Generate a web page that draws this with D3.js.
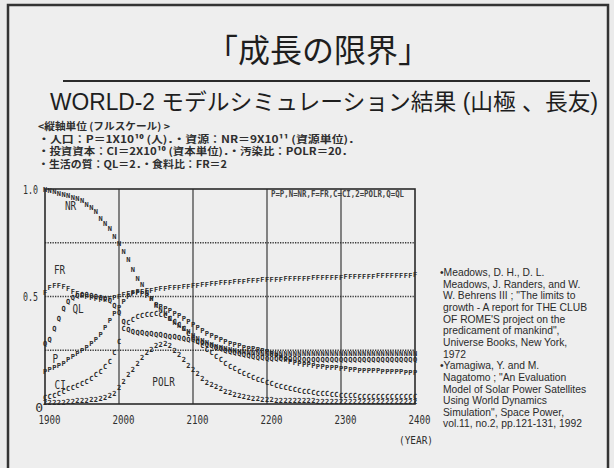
<!DOCTYPE html>
<html>
<head>
<meta charset="utf-8">
<script src="https://cdn.jsdelivr.net/npm/d3@7"></script>
<style>
    body { margin: 0; background: #ebebeb; }
    svg { display: block; }
</style>
</head>
<body>
<script>
// simulation output, normalised to full scale, every 6.25 years 1900-2400
var years = d3.range(81).map(function (i) { return 1900 + i * 6.25; });

var nr = [1.00, 0.995, 0.99, 0.98, 0.975, 0.97, 0.96, 0.955,
    0.945, 0.93, 0.915, 0.895, 0.865, 0.84, 0.815, 0.78,
    0.745, 0.71, 0.67, 0.625, 0.585, 0.555, 0.52, 0.49,
    0.46, 0.44, 0.42, 0.40, 0.38, 0.365, 0.35, 0.335,
    0.32, 0.305, 0.295, 0.285, 0.275, 0.268, 0.262, 0.257,
    0.253, 0.249, 0.246, 0.243, 0.241, 0.239, 0.238, 0.237,
    0.236, 0.236, 0.235, 0.235, 0.235, 0.235, 0.235, 0.235,
    0.235, 0.235, 0.235, 0.235, 0.235, 0.235, 0.235, 0.235,
    0.235, 0.235, 0.235, 0.235, 0.235, 0.235, 0.235, 0.235,
    0.235, 0.235, 0.235, 0.235, 0.235, 0.235, 0.236, 0.236,
    0.236];
var fr = [0.52, 0.54, 0.55, 0.55, 0.545, 0.535, 0.525, 0.515,
    0.505, 0.50, 0.495, 0.49, 0.485, 0.485, 0.49, 0.495,
    0.50, 0.51, 0.515, 0.52, 0.522, 0.525, 0.527, 0.53,
    0.532, 0.535, 0.537, 0.54, 0.542, 0.544, 0.546, 0.548,
    0.55, 0.552, 0.555, 0.557, 0.559, 0.561, 0.563, 0.565,
    0.567, 0.568, 0.57, 0.572, 0.573, 0.574, 0.576, 0.577,
    0.578, 0.579, 0.58, 0.581, 0.582, 0.583, 0.584, 0.584,
    0.585, 0.586, 0.587, 0.587, 0.588, 0.589, 0.589, 0.59,
    0.59, 0.591, 0.592, 0.592, 0.593, 0.594, 0.594, 0.595,
    0.596, 0.596, 0.597, 0.598, 0.598, 0.599, 0.6, 0.6,
    0.601];
var ql = [0.28, 0.30, 0.35, 0.40, 0.445, 0.475, 0.495, 0.505,
    0.51, 0.51, 0.505, 0.50, 0.495, 0.49, 0.48, 0.46,
    0.425, 0.385, 0.345, 0.335, 0.333, 0.331, 0.329, 0.327,
    0.325, 0.322, 0.319, 0.316, 0.313, 0.31, 0.306, 0.302,
    0.298, 0.292, 0.286, 0.279, 0.272, 0.265, 0.258, 0.251,
    0.245, 0.239, 0.233, 0.228, 0.224, 0.22, 0.217, 0.215,
    0.213, 0.212, 0.211, 0.21, 0.21, 0.21, 0.21, 0.21,
    0.209, 0.209, 0.209, 0.209, 0.209, 0.209, 0.208, 0.208,
    0.208, 0.208, 0.208, 0.208, 0.208, 0.208, 0.208, 0.208,
    0.207, 0.207, 0.207, 0.207, 0.207, 0.207, 0.207, 0.207,
    0.207];
var pop = [0.15, 0.16, 0.17, 0.18, 0.19, 0.205, 0.22, 0.235,
    0.25, 0.265, 0.28, 0.30, 0.325, 0.355, 0.39, 0.42,
    0.45, 0.475, 0.50, 0.515, 0.52, 0.515, 0.505, 0.49,
    0.465, 0.455, 0.445, 0.435, 0.42, 0.41, 0.40, 0.385,
    0.37, 0.355, 0.34, 0.33, 0.32, 0.31, 0.30, 0.29,
    0.282, 0.276, 0.27, 0.264, 0.26, 0.256, 0.252, 0.25,
    0.245, 0.235, 0.225, 0.215, 0.207, 0.2, 0.195, 0.19,
    0.186, 0.182, 0.179, 0.176, 0.174, 0.172, 0.17, 0.168,
    0.166, 0.164, 0.162, 0.16, 0.158, 0.157, 0.156, 0.155,
    0.154, 0.153, 0.152, 0.151, 0.15, 0.149, 0.148, 0.147,
    0.146];
var ci = [0.03, 0.035, 0.04, 0.05, 0.06, 0.07, 0.078, 0.086,
    0.095, 0.105, 0.12, 0.135, 0.15, 0.175, 0.2, 0.24,
    0.29, 0.35, 0.38, 0.395, 0.405, 0.41, 0.415, 0.418,
    0.42, 0.418, 0.41, 0.40, 0.385, 0.37, 0.35, 0.33,
    0.31, 0.29, 0.27, 0.255, 0.24, 0.222, 0.205, 0.19,
    0.175, 0.163, 0.152, 0.142, 0.133, 0.124, 0.116, 0.108,
    0.101, 0.094, 0.088, 0.082, 0.077, 0.072, 0.068, 0.064,
    0.06, 0.057, 0.054, 0.051, 0.049, 0.047, 0.045, 0.043,
    0.041, 0.04, 0.039, 0.038, 0.037, 0.036, 0.036, 0.035,
    0.035, 0.034, 0.034, 0.034, 0.033, 0.033, 0.033, 0.033,
    0.033];
var polr = [0.005, 0.006, 0.007, 0.008, 0.009, 0.01, 0.012, 0.014,
    0.016, 0.018, 0.02, 0.023, 0.026, 0.03, 0.038, 0.05,
    0.075, 0.105, 0.135, 0.16, 0.19, 0.215, 0.24, 0.255,
    0.27, 0.278, 0.28, 0.27, 0.25, 0.23, 0.205, 0.18,
    0.16, 0.14, 0.12, 0.1, 0.09, 0.08, 0.07, 0.06,
    0.052, 0.045, 0.04, 0.035, 0.03, 0.027, 0.024, 0.021,
    0.02, 0.019, 0.018, 0.017, 0.016, 0.016, 0.015, 0.015,
    0.014, 0.014, 0.014, 0.013, 0.013, 0.013, 0.013, 0.013,
    0.012, 0.012, 0.012, 0.012, 0.012, 0.012, 0.012, 0.012,
    0.012, 0.012, 0.012, 0.012, 0.012, 0.012, 0.012, 0.012,
    0.012];

var seriesGlyphs = ["N", "F", "Q", "P", "C", "2"];
var seriesValues = [nr, fr, ql, pop, ci, polr];
var xTicks = [1900, 2000, 2100, 2200, 2300, 2400];
var yTicks = [0, 0.5, 1];
var gridYears = [2000, 2100, 2200, 2300];
var gridLevels = [0.25, 0.5, 0.75];

var title = "「成長の限界」";
var subtitle = "WORLD-2 モデルシミュレーション結果 (山極 、長友)";
var headerLines = [
    "<縦軸単位 (フルスケール) >",
    "・人口：P＝1X10¹⁰ (人)．・資源：NR＝9X10¹¹ (資源単位)．",
    "・投資資本：CI＝2X10¹⁰ (資本単位)．・汚染比：POLR＝20．",
    "・生活の質：QL＝2．・食料比：FR＝2"
];
var headerWidths = [132, 322, 315, 189];
var legendText = "P=P,N=NR,F=FR,C=CI,2=POLR,Q=QL";
var curveLabels = [
    { t: "NR", yr: 1927, v: 0.90 },
    { t: "FR", yr: 1912, v: 0.605 },
    { t: "QL", yr: 1937, v: 0.425 },
    { t: "P", yr: 1910, v: 0.19 },
    { t: "CI", yr: 1913, v: 0.07 },
    { t: "POLR", yr: 2045, v: 0.085 }
];
var refLines = [
    "\u2022Meadows, D. H., D. L.",
    "Meadows, J. Randers, and W.",
    "W. Behrens III ; \"The limits to",
    "growth - A report for THE CLUB",
    "OF ROME'S project on the",
    "predicament of mankind\",",
    "Universe Books, New York,",
    "1972",
    "\u2022Yamagiwa, Y. and M.",
    "Nagatomo ; \"An Evaluation",
    "Model of Solar Power Satellites",
    "Using World Dynamics",
    "Simulation\", Space Power,",
    "vol.11, no.2, pp.121-131, 1992"
];

var w = 614, h = 468;
var ink = "#2e2e2e";
var mono = "'DejaVu Sans Mono', 'Liberation Mono', monospace";
var cjk = "'Noto Sans CJK JP', 'Noto Sans', sans-serif";

let svg = d3.select("body")
    .append("svg")
    .attr("width", w)
    .attr("height", h);

svg.append("rect")
    .attr("width", w).attr("height", h)
    .attr("fill", "#ebebeb");

// slide frame
svg.append("rect")
    .attr("x", 8).attr("y", 5)
    .attr("width", 600).attr("height", 470)
    .attr("fill", "#eeeeee")
    .attr("stroke", "#333")
    .attr("stroke-width", 2.5);

svg.append("text")
    .text(title)
    .attr("x", 318).attr("y", 62)
    .attr("text-anchor", "middle")
    .attr("font-family", cjk)
    .attr("font-size", "32px")
    .attr("fill", "#1e1e1e");

svg.append("line")
    .attr("x1", 63).attr("x2", 590)
    .attr("y1", 81).attr("y2", 81)
    .attr("stroke", "#2a2a2a")
    .attr("stroke-width", 2);

svg.append("text")
    .text(subtitle)
    .attr("x", 50).attr("y", 110)
    .attr("textLength", 548)
    .attr("lengthAdjust", "spacingAndGlyphs")
    .attr("font-family", "'Liberation Sans', " + cjk)
    .attr("font-size", "23px")
    .attr("fill", "#1e1e1e");

svg.selectAll("text.header")
    .data(headerLines)
    .enter()
    .append("text")
    .attr("class", "header")
    .text(function (d) { return d; })
    .attr("x", 38)
    .attr("y", function (d, i) { return 130 + i * 12.7; })
    .attr("textLength", function (d, i) { return headerWidths[i]; })
    .attr("lengthAdjust", "spacingAndGlyphs")
    .attr("font-family", cjk)
    .attr("font-weight", "bold")
    .attr("font-size", "10px")
    .attr("fill", ink);

// chart
var xScale = d3.scaleLinear().domain([1900, 2400]).range([45, 415]);
var yScale = d3.scaleLinear().domain([0, 1]).range([404, 189]);

svg.selectAll("line.vgrid")
    .data(gridYears)
    .enter()
    .append("line")
    .attr("class", "vgrid")
    .attr("x1", function (d) { return xScale(d); })
    .attr("x2", function (d) { return xScale(d); })
    .attr("y1", yScale(1)).attr("y2", yScale(0))
    .attr("stroke", "#3a3a3a")
    .attr("stroke-width", 1.2);

svg.selectAll("line.hgrid")
    .data(gridLevels)
    .enter()
    .append("line")
    .attr("class", "hgrid")
    .attr("x1", xScale(1900)).attr("x2", xScale(2400))
    .attr("y1", function (d) { return yScale(d); })
    .attr("y2", function (d) { return yScale(d); })
    .attr("stroke", "#3a3a3a")
    .attr("stroke-width", 1.3)
    .attr("stroke-dasharray", "1.3,1.2");

svg.append("rect")
    .attr("x", xScale(1900)).attr("y", yScale(1))
    .attr("width", xScale(2400) - xScale(1900))
    .attr("height", yScale(0) - yScale(1))
    .attr("fill", "none")
    .attr("stroke", "#2a2a2a")
    .attr("stroke-width", 1.6);

var xAxis = d3.axisBottom(xScale)
    .tickValues(xTicks)
    .tickSize(0)
    .tickPadding(0)
    .tickFormat(d3.format("d"));
svg.append("g")
    .attr("transform", "translate(4,415)")
    .call(xAxis)
    .call(function (g) { g.select(".domain").remove(); })
    .selectAll("text")
    .attr("font-family", mono)
    .attr("font-size", "12px")
    .attr("textLength", 22)
    .attr("lengthAdjust", "spacingAndGlyphs")
    .attr("fill", ink);

var yAxis = d3.axisLeft(yScale)
    .tickValues(yTicks)
    .tickSize(0)
    .tickPadding(7)
    .tickFormat(function (d) { return d === 0 ? "0" : d.toFixed(1); });
svg.append("g")
    .attr("transform", "translate(" + xScale(1900) + ",0)")
    .call(yAxis)
    .call(function (g) { g.select(".domain").remove(); })
    .selectAll("text")
    .attr("dx", function (d) { return d === 0 ? 5 : 0; })
    .attr("dy", function (d) { return d === 0 ? "0.55em" : "0.32em"; })
    .attr("textLength", function (d) { return d === 0 ? null : 15; })
    .attr("lengthAdjust", "spacingAndGlyphs")
    .attr("font-family", mono)
    .attr("font-size", "13px")
    .attr("fill", ink);

svg.append("text")
    .text("(YEAR)")
    .attr("x", 416).attr("y", 444)
    .attr("text-anchor", "middle")
    .attr("textLength", 34)
    .attr("lengthAdjust", "spacingAndGlyphs")
    .attr("font-family", mono)
    .attr("font-size", "11px")
    .attr("fill", ink);

svg.append("text")
    .text(legendText)
    .attr("x", 271).attr("y", 197)
    .attr("textLength", 133)
    .attr("lengthAdjust", "spacingAndGlyphs")
    .attr("font-family", mono)
    .attr("font-weight", "bold")
    .attr("font-size", "8px")
    .attr("fill", "#444");

// printer-style glyph marks, one character per time step
seriesValues.forEach(function (vals, s) {
    svg.append("g")
        .selectAll("text")
        .data(vals)
        .enter()
        .append("text")
        .text(seriesGlyphs[s])
        .attr("x", function (d, i) { return xScale(years[i]); })
        .attr("y", function (d) { return yScale(d) + 2.5; })
        .attr("text-anchor", "middle")
        .attr("font-family", mono)
        .attr("font-weight", "bold")
        .attr("font-size", "7px")
        .attr("fill", "#2a2a2a");
});

svg.selectAll("text.curve")
    .data(curveLabels)
    .enter()
    .append("text")
    .attr("class", "curve")
    .text(function (d) { return d.t; })
    .attr("x", function (d) { return xScale(d.yr); })
    .attr("y", function (d) { return yScale(d.v); })
    .attr("font-family", mono)
    .attr("font-size", "12px")
    .attr("transform", function (d) {
        var cx = xScale(d.yr);
        return "translate(" + cx + ",0) scale(0.78,1) translate(" + (-cx) + ",0)";
    })
    .attr("fill", ink);

svg.selectAll("text.ref")
    .data(refLines)
    .enter()
    .append("text")
    .attr("class", "ref")
    .text(function (d) { return d; })
    .attr("x", function (d) { return d.charAt(0) === "\u2022" ? 440 : 443; })
    .attr("y", function (d, i) { return 276 + i * 11.65; })
    .attr("font-family", "'Liberation Sans', Arial, sans-serif")
    .attr("font-size", "10.3px")
    .attr("fill", "#2a2a2a");
</script>
</body>
</html>
